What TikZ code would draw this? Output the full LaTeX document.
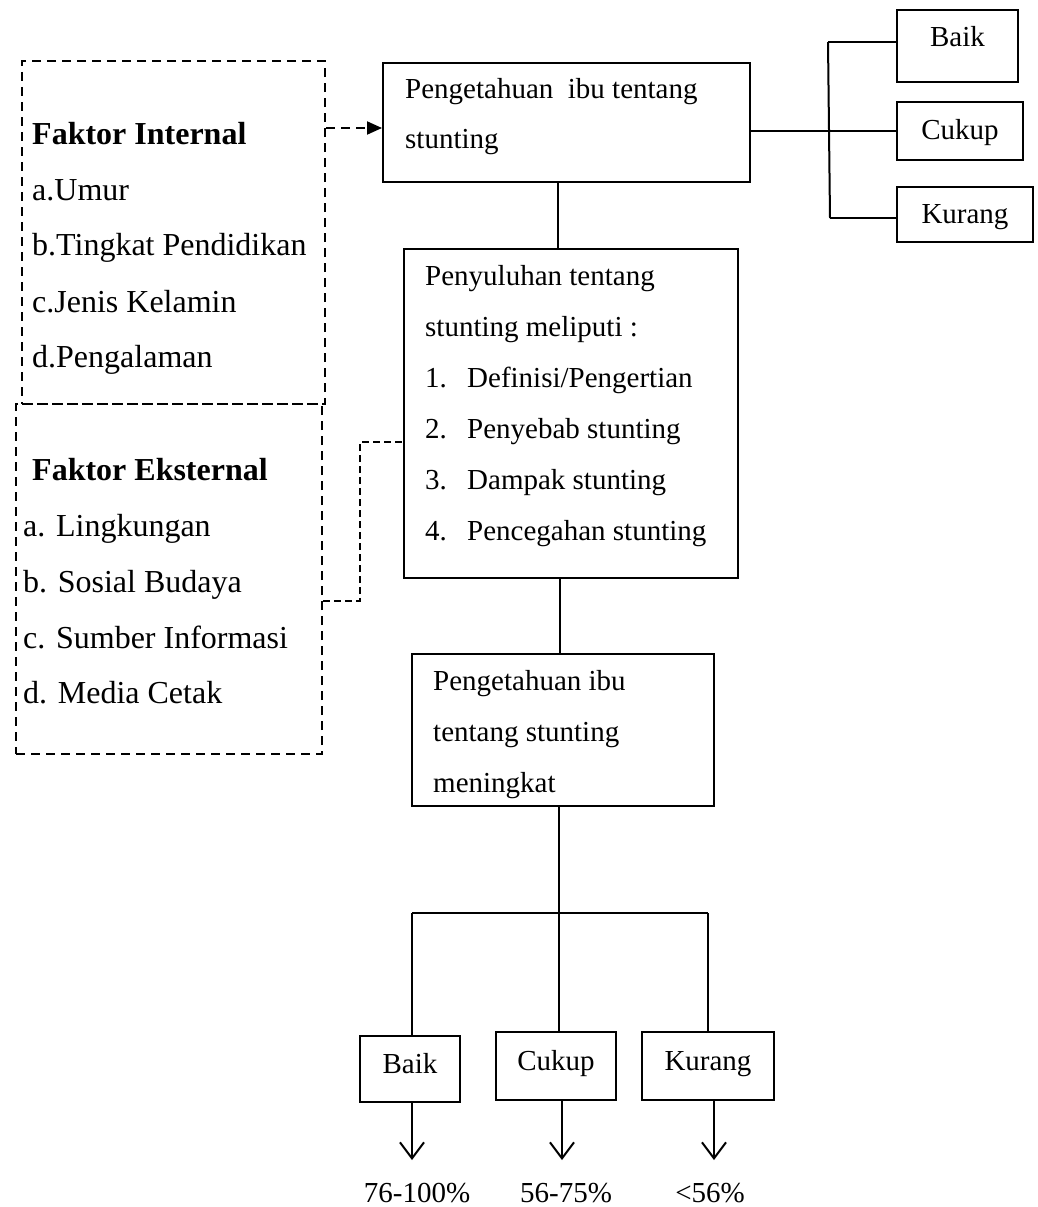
\documentclass[tikz,border=0pt]{standalone}
\usepackage{fontspec}
\setmainfont{Liberation Serif}
\usetikzlibrary{arrows.meta,calc}
\begin{document}
\begin{tikzpicture}[x=1pt,y=-1pt,
  box/.style={draw, line width=2pt, inner sep=0pt, rectangle},
  dbox/.style={draw, line width=2pt, dash pattern=on 9pt off 6pt, inner sep=0pt, rectangle},
  big/.style={font=\fontsize{32}{38}\selectfont, inner sep=0pt, anchor=base west},
  txt/.style={font=\fontsize{29}{35}\selectfont, inner sep=0pt, anchor=base west},
  ctxt/.style={font=\fontsize{29}{35}\selectfont, inner sep=0pt, anchor=base},
  conn/.style={line width=2pt},
  dconn/.style={line width=2pt, dash pattern=on 9pt off 6pt},
  thinconn/.style={line width=1.4pt, dash pattern=on 7pt off 4pt},
  vtip/.style={line width=2pt, -{Straight Barb[length=16pt,width=24pt,line width=2pt]}}
]
\useasboundingbox (0,0) rectangle (1038,1207);

% dashed factor boxes
\node[dbox, minimum width=303pt, minimum height=343pt] (int) at (173.5,232.5) {};
\node[dbox, minimum width=306pt, minimum height=350pt] (ext) at (169,579) {};

\node[big, font=\fontsize{32}{38}\selectfont\bfseries] (intT) at (32,144) {Faktor Internal};
\node[big] (i1) at (32,200) {a.Umur};
\node[big] (i2) at (32,255) {b.Tingkat Pendidikan};
\node[big] (i3) at (32,312) {c.Jenis Kelamin};
\node[big] (i4) at (32,367) {d.Pengalaman};

\node[big, font=\fontsize{32}{38}\selectfont\bfseries] (extT) at (32,480) {Faktor Eksternal};
\node[big] (e1) at (23,536) {a. Lingkungan};
\node[big] (e2) at (23,592) {b. Sosial Budaya};
\node[big] (e3) at (23,648) {c. Sumber Informasi};
\node[big] (e4) at (23,703) {d. Media Cetak};

% main boxes
\node[box, minimum width=367pt, minimum height=119pt] (top) at (566.5,122.5) {};
\node[txt] (top1) at (405,99) {Pengetahuan\ \ ibu tentang};
\node[txt] (top2) at (405,148) {stunting};

\node[box, minimum width=334pt, minimum height=329pt] (peny) at (571,413.5) {};
\node[txt] (p1) at (425,285) {Penyuluhan tentang};
\node[txt] (p2) at (425,336) {stunting meliputi :};
\node[txt] (p3) at (425,387) {\makebox[42pt][l]{1.}Definisi/Pengertian};
\node[txt] (p4) at (425,438) {\makebox[42pt][l]{2.}Penyebab stunting};
\node[txt] (p5) at (425,489) {\makebox[42pt][l]{3.}Dampak stunting};
\node[txt] (p6) at (425,540) {\makebox[42pt][l]{4.}Pencegahan stunting};

\node[box, minimum width=302pt, minimum height=152pt] (mening) at (563,730) {};
\node[txt] (m1) at (433,690) {Pengetahuan ibu};
\node[txt] (m2) at (433,741) {tentang stunting};
\node[txt] (m3) at (433,792) {meningkat};

% top right result boxes
\node[box, minimum width=121pt, minimum height=72pt] (rb) at (957.5,46) {};
\node[ctxt] (rbT) at (957.5,47) {Baik};
\node[box, minimum width=126pt, minimum height=58pt] (rc) at (960,131) {};
\node[ctxt] (rcT) at (960,139) {Cukup};
\node[box, minimum width=136pt, minimum height=55pt] (rk) at (965,214.5) {};
\node[ctxt] (rkT) at (965,223) {Kurang};

% bottom result boxes
\node[box, minimum width=100pt, minimum height=66pt] (bb) at (410,1069) {};
\node[ctxt] (bbT) at (410,1073) {Baik};
\node[box, minimum width=120pt, minimum height=68pt] (bc) at (556,1066) {};
\node[ctxt] (bcT) at (556,1070) {Cukup};
\node[box, minimum width=132pt, minimum height=68pt] (bk) at (708,1066) {};
\node[ctxt] (bkT) at (708,1070) {Kurang};

\node[ctxt] (pb) at (417,1202) {76-100\%};
\node[ctxt] (pc) at (566,1202) {56-75\%};
\node[ctxt] (pk) at (710,1202) {<56\%};

% coordinates
\coordinate (jr) at (828,131);
\coordinate (jrT) at (828,42);
\coordinate (jrB) at (830,218);
\coordinate (v1) at (558,0);
\coordinate (v2) at (560,0);
\coordinate (v3) at (559,0);
\coordinate (barL) at (412,913);
\coordinate (barM) at (559,913);
\coordinate (barR) at (708,913);
\coordinate (ab) at (412,1160);
\coordinate (ac) at (562,1160);
\coordinate (ak) at (714,1160);
\coordinate (dx1) at (360,601);
\coordinate (dx2) at (360,442);

% connectors
\draw[dconn, -{Triangle[length=15pt,width=13pt]}] ([yshift=-5.5pt]int.east |- top.west) -- ([yshift=-5.5pt]top.west);
\draw[conn] (top.south -| v1) -- (peny.north -| v1);
\draw[conn] (peny.south -| v2) -- (mening.north -| v2);
\draw[conn] (mening.south -| v3) -- (barM);
\draw[conn] (barL) -- (barR);
\draw[conn] (barL) -- (bb.north -| barL);
\draw[conn] (barM) -- (bc.north -| barM);
\draw[conn] (barR) -- (bk.north -| barR);
\draw[vtip] (bb.south -| ab) -- (ab);
\draw[vtip] (bc.south -| ac) -- (ac);
\draw[vtip] (bk.south -| ak) -- (ak);

\draw[conn] ([yshift=-8.5pt]top.east) -- (jr);
\draw[conn] (jrT) -- (jrB);
\draw[conn] (jrT) -- (rb.west |- jrT);
\draw[conn] (jr) -- (rc.west |- jr);
\draw[conn] (jrB) -- (rk.west |- jrB);

\draw[thinconn] (ext.east |- dx1) -- (dx1) -- (dx2) -- (peny.west |- dx2);
\end{tikzpicture}
\end{document}
